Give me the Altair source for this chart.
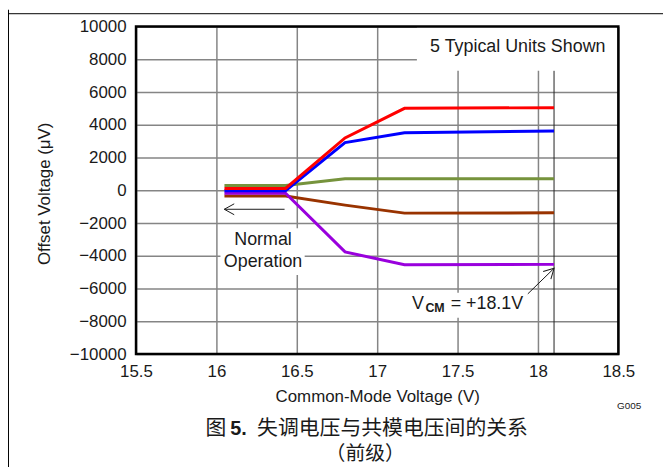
import altair as alt
import pandas as pd

# ---------------- data ----------------
vcm = [16.05, 16.43, 16.8, 17.17, 18.1]
unit_green = [300, 300, 715, 715, 715]
unit_brown = [-350, -350, -900, -1390, -1370]
unit_purple = [-180, -180, -3760, -4540, -4520]
unit_blue = [-20, -20, 2920, 3520, 3620]
unit_red = [120, 120, 3200, 5010, 5050]

series = [
    ("green", unit_green, "#76933C"),
    ("brown", unit_brown, "#993300"),
    ("purple", unit_purple, "#9900DD"),
    ("blue", unit_blue, "#0000FF"),
    ("red", unit_red, "#FF0000"),
]

x_ticks = [15.5, 16, 16.5, 17, 17.5, 18, 18.5]
y_ticks = [-10000, -8000, -6000, -4000, -2000, 0, 2000, 4000, 6000, 8000, 10000]

FONT = "Liberation Sans"
CJK = "Noto Sans CJK SC"
TXT = "#1a1a1a"

x_scale = alt.Scale(domain=[15.5, 18.5], nice=False, zero=False)
y_scale = alt.Scale(domain=[-10000, 10000], nice=False, zero=False)

x_axis = alt.Axis(
    values=x_ticks, format="~g", grid=True, gridColor="#858585", gridWidth=1.5,
    ticks=False, domain=False, labelFont=FONT, labelFontSize=17, labelColor=TXT,
    labelPadding=10, labelFlush=False, labelOverlap=False,
    title="Common-Mode Voltage (V)", titleFont=FONT, titleFontSize=17,
    titleFontWeight="normal", titleColor=TXT, titleX=243, titleY=43,
    titleBaseline="middle", titleAlign="center",
)
y_axis = alt.Axis(
    values=y_ticks, format="d", grid=True, gridColor="#858585", gridWidth=1.5,
    ticks=False, domain=False, labelFont=FONT, labelFontSize=17, labelColor=TXT,
    labelPadding=10, labelFlush=False, labelOverlap=False,
    title="Offset Voltage (\u03bcV)", titleFont=FONT, titleFontSize=17,
    titleFontWeight="normal", titleColor=TXT, titleX=-92, titleY=168,
    titleAngle=270, titleBaseline="middle", titleAlign="center",
)

def X(field="x"):
    return alt.X(field, type="quantitative", scale=x_scale, axis=x_axis)

def Y(field="y"):
    return alt.Y(field, type="quantitative", scale=y_scale, axis=y_axis)

layers = []

# white boxes behind annotations (hide grid)
boxes = pd.DataFrame({
    "x": [17.247, 16.025, 17.167],
    "x2": [18.5, 16.549, 17.926],
    "y": [7300, -2310, -6260],
    "y2": [10000, -5170, -7780],
})
layers.append(alt.Chart(boxes).mark_rect(fill="white", strokeWidth=0).encode(
    x=X(), x2="x2", y=Y(), y2="y2"))

# extra reference line at 18.1 V
ref_df = pd.DataFrame({"x": [18.1], "y": [7300], "y2": [-10000]})
layers.append(alt.Chart(ref_df).mark_rule(color="#222222", strokeWidth=1).encode(
    x=X(), y=Y(), y2="y2"))

# data lines
for name, vals, col in series:
    df = pd.DataFrame({"x": vcm, "y": vals})
    layers.append(alt.Chart(df).mark_line(color=col, strokeWidth=3).encode(
        x=X(), y=Y()))

# arrows
arr1 = pd.DataFrame({"x": [16.424, 16.049], "y": [-1155, -1155]})
layers.append(alt.Chart(arr1).mark_line(color=TXT, strokeWidth=1).encode(x=X(), y=Y()))
arr2 = pd.DataFrame({"x": [17.937, 18.1], "y": [-6320, -4760]})
layers.append(alt.Chart(arr2).mark_line(color=TXT, strokeWidth=1).encode(x=X(), y=Y()))
heads = pd.DataFrame({"x": [16.049, 18.1], "y": [-1155, -4760], "a": [180, 315]})
layers.append(alt.Chart(heads).mark_point(
    shape="M-1,-0.55L0,0L-1,0.55", filled=False, stroke=TXT, strokeWidth=1, size=400, opacity=1
).encode(x=X(), y=Y(), angle=alt.Angle("a:Q", scale=None)))

# in-plot text
t_right = pd.DataFrame({"x": [18.42], "y": [8750], "t": ["5 Typical Units Shown"]})
layers.append(alt.Chart(t_right).mark_text(font=FONT, fontSize=18, color=TXT, align="right", baseline="middle").encode(
    x=X(), y=Y(), text="t"))
t_center = pd.DataFrame({"x": [16.29, 16.29], "y": [-3040, -4377], "t": ["Normal", "Operation"]})
layers.append(alt.Chart(t_center).mark_text(font=FONT, fontSize=18, color=TXT, align="center", baseline="middle").encode(
    x=X(), y=Y(), text="t"))
t_left = pd.DataFrame({"x": [17.216, 17.457], "y": [-6930, -6930], "t": ["V", "= +18.1V"]})
layers.append(alt.Chart(t_left).mark_text(font=FONT, fontSize=18, color=TXT, align="left", baseline="middle").encode(
    x=X(), y=Y(), text="t"))
t_sub = pd.DataFrame({"x": [17.3], "y": [-7170], "t": ["CM"]})
layers.append(alt.Chart(t_sub).mark_text(font=FONT, fontSize=12.5, fontWeight="bold", color=TXT, align="left", baseline="middle").encode(
    x=X(), y=Y(), text="t"))

# plot frame
frame = pd.DataFrame({"x": [15.5], "x2": [18.5], "y": [-10000], "y2": [10000]})
layers.append(alt.Chart(frame).mark_rect(fillOpacity=0, stroke="black", strokeWidth=2.5).encode(
    x=X(), x2="x2", y=Y(), y2="y2"))

# outside texts and page frame lines (pixel positions)
one = alt.Data(values=[{}])
layers.append(alt.Chart(one).mark_rule(color="black", strokeWidth=1).encode(
    x=alt.value(-128.5), y=alt.value(-17), y2=alt.value(445)))
layers.append(alt.Chart(one).mark_rule(color="black", strokeWidth=1).encode(
    x=alt.value(-129), x2=alt.value(531), y=alt.value(-13)))
layers.append(alt.Chart(one).mark_text(font=CJK, fontSize=21, color=TXT, align="left", baseline="middle").encode(
    x=alt.value(70), y=alt.value(406), text=alt.value("图")))
layers.append(alt.Chart(one).mark_text(font=FONT, fontSize=20, fontWeight="bold", color=TXT, align="left", baseline="middle").encode(
    x=alt.value(95), y=alt.value(406), text=alt.value("5.")))
layers.append(alt.Chart(one).mark_text(font=CJK, fontSize=21, color=TXT, align="left", baseline="middle").encode(
    x=alt.value(122), y=alt.value(406), text=alt.value("失调电压与共模电压间的关系")))
layers.append(alt.Chart(one).mark_text(font=CJK, fontSize=20, color=TXT, align="center", baseline="middle").encode(
    x=alt.value(231), y=alt.value(431), text=alt.value("（前级）")))
layers.append(alt.Chart(one).mark_text(font=FONT, fontSize=10, color=TXT, align="right", baseline="middle").encode(
    x=alt.value(509), y=alt.value(382), text=alt.value("G005")))

chart = alt.layer(*layers).properties(
    width=486, height=330,
    autosize=alt.AutoSizeParams(type="none"),
    padding={"left": 129, "top": 17, "right": 45, "bottom": 112},
).configure_view(stroke="transparent")

chart.save("out.html", embed_options={"renderer": "svg", "actions": False})
